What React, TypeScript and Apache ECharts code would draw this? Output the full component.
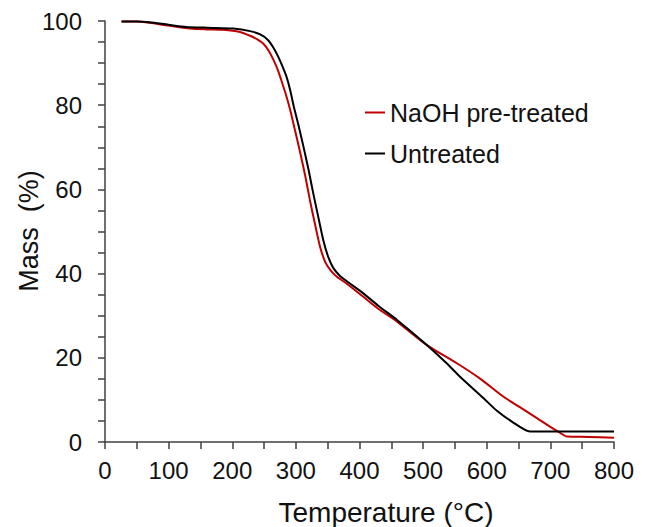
import React, { useEffect, useRef } from "react";
import * as echarts from "echarts";

const seriesNames = ["NaOH pre-treated", "Untreated"];
const seriesColors = ["#C00000", "#000000"];

const tempNaOH = [26, 50, 70, 100, 134, 160, 186, 212, 228, 240, 249, 257, 265, 272, 278, 285, 291, 299, 307, 315, 322, 330, 338, 346, 354, 364, 380, 406, 430, 459, 506, 553, 590, 626, 660, 700, 715, 726, 760, 800];
const massNaOH = [99.9, 99.9, 99.6, 98.9, 98.2, 98.0, 97.9, 97.4, 96.5, 95.6, 94.6, 93.0, 90.7, 88.2, 85.5, 82.2, 78.9, 73.8, 68.6, 63.0, 57.5, 51.8, 46.4, 42.8, 40.9, 39.3, 37.6, 34.5, 31.6, 28.6, 23.0, 18.7, 15.0, 10.8, 7.5, 3.6, 2.2, 1.3, 1.2, 1.0];

const tempUntreated = [26, 50, 70, 100, 128, 160, 202, 228, 244, 256, 265, 272, 279, 285, 291, 297, 304, 312, 320, 327, 335, 343, 351, 359, 369, 380, 406, 430, 459, 500, 537, 558, 595, 616, 640, 668, 700, 750, 800];
const massUntreated = [99.9, 99.9, 99.7, 99.1, 98.6, 98.4, 98.2, 97.6, 96.8, 95.5, 93.6, 91.6, 89.2, 86.9, 83.6, 79.5, 75.3, 70.1, 64.6, 59.3, 53.6, 48.0, 43.9, 41.3, 39.5, 38.2, 35.3, 32.3, 29.0, 23.8, 18.7, 15.5, 10.4, 7.4, 4.8, 2.5, 2.5, 2.5, 2.5];

const xTicks = { min: 0, max: 800, interval: 100 };
const yTicks = { min: 0, max: 100, interval: 20 };

const xTitle = "Temperature (°C)";
const yTitle = "Mass  (%)";

const FONT = "'Liberation Sans', Arial, Helvetica, sans-serif";
const AXIS_COLOR = "#404040";

export default function App() {
  const ref = useRef<HTMLDivElement>(null);

  useEffect(() => {
    if (!ref.current) return;
    const chart = echarts.init(ref.current, null, { renderer: "svg" });
    const toPairs = (t: number[], m: number[]) => t.map((v, i) => [v, m[i]]);

    const axisCommon = {
      axisLine: { show: true, onZero: false, lineStyle: { color: AXIS_COLOR, width: 1.5 } },
      axisTick: { show: true, inside: false, length: 7, lineStyle: { color: AXIS_COLOR, width: 1.5 } },
      minorTick: { show: true, length: 7, lineStyle: { color: AXIS_COLOR, width: 1.5 } },
      splitLine: { show: false },
      minorSplitLine: { show: false },
    };

    chart.setOption({
      animation: false,
      backgroundColor: "#ffffff",
      textStyle: { fontFamily: FONT },
      grid: { left: 105, right: 34, top: 21, bottom: 85, containLabel: false },
      xAxis: {
        type: "value",
        ...xTicks,
        ...axisCommon,
        minorTick: { ...axisCommon.minorTick, splitNumber: 2 },
        axisLabel: { fontSize: 24, color: "#111", margin: 16, fontFamily: FONT },
      },
      yAxis: {
        type: "value",
        ...yTicks,
        ...axisCommon,
        minorTick: { ...axisCommon.minorTick, splitNumber: 4 },
        axisLabel: { fontSize: 24, color: "#111", margin: 23, fontFamily: FONT },
      },
      legend: {
        orient: "vertical",
        left: 360,
        top: 95,
        itemWidth: 20,
        itemHeight: 2,
        itemGap: 16,
        icon: "rect",
        textStyle: { fontSize: 25, color: "#111", fontFamily: FONT },
        data: seriesNames,
      },
      graphic: [
        {
          type: "text",
          x: 386,
          y: 512,
          style: { text: xTitle, fontSize: 28, fill: "#111", font: `28px ${FONT}`, align: "center", verticalAlign: "middle" },
        },
        {
          type: "text",
          x: 29,
          y: 231,
          rotation: Math.PI / 2,
          style: { text: yTitle, fontSize: 27, fill: "#111", font: `27px ${FONT}`, align: "center", verticalAlign: "middle" },
        },
      ],
      series: [
        {
          name: seriesNames[0],
          type: "line",
          data: toPairs(tempNaOH, massNaOH),
          showSymbol: false,
          smooth: 0.25,
          lineStyle: { color: seriesColors[0], width: 2 },
          itemStyle: { color: seriesColors[0] },
          z: 2,
        },
        {
          name: seriesNames[1],
          type: "line",
          data: toPairs(tempUntreated, massUntreated),
          showSymbol: false,
          smooth: 0.25,
          lineStyle: { color: seriesColors[1], width: 2 },
          itemStyle: { color: seriesColors[1] },
          z: 3,
        },
      ],
    });
    return () => chart.dispose();
  }, []);

  return <div ref={ref} style={{ width: 648, height: 527, position: "absolute", left: 0, top: 0 }} />;
}
